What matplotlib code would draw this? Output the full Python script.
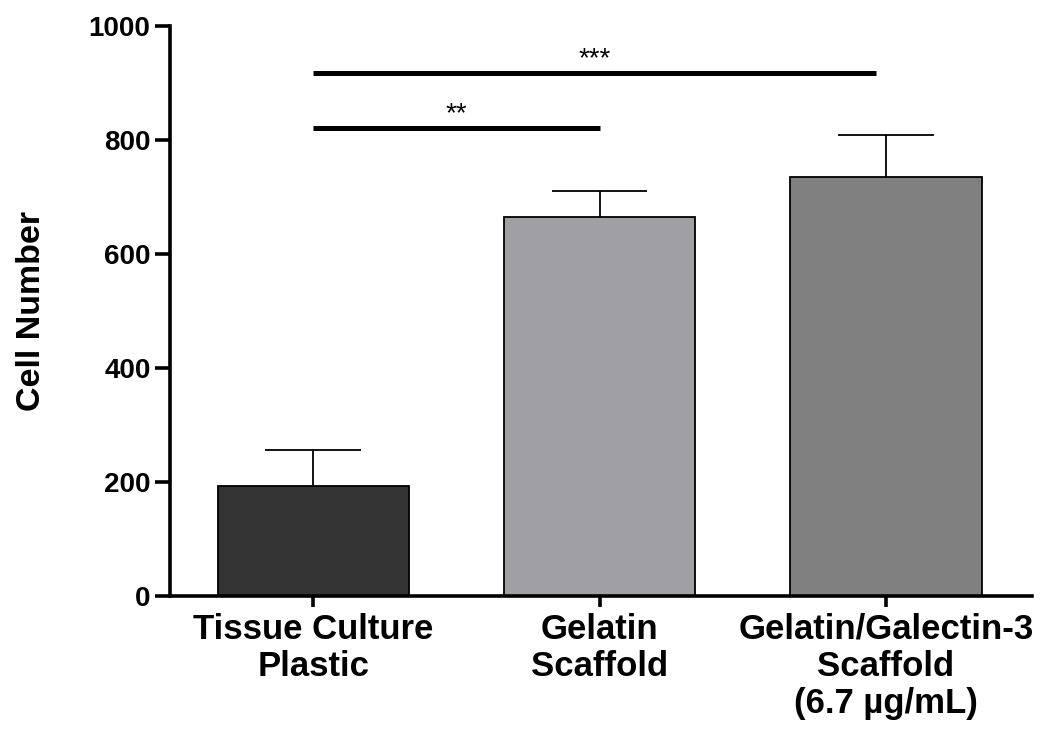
import matplotlib
matplotlib.use("Agg")
import matplotlib.pyplot as plt

plt.rcParams['font.family'] = ['Liberation Sans', 'DejaVu Sans']

# Dados
grupos = ["Tissue Culture\nPlastic", "Gelatin\nScaffold", "Gelatin/Galectin-3\nScaffold\n(6.7 µg/mL)"]
medias = [193, 665, 735]
erros = [63, 46, 74]
cores = ["#333333", "#a09fa3", "#808080"]
yticks = [0, 200, 400, 600, 800, 1000]

# Comparações de significância: (grupo inicial, grupo final, altura, rótulo)
comparacoes = [(0, 1, 821, "**"), (0, 2, 917, "***")]

fig = plt.figure(figsize=(10.43, 7.36), dpi=100)
ax = fig.add_axes([0.163, 0.190, 0.8265, 0.7747])

x = list(range(len(grupos)))
largura = 0.667
ax.bar(x, medias, width=largura, color=cores, edgecolor="black", linewidth=1.3, zorder=2)

# Barras de erro (só para cima), com a tampa = metade da largura da barra
topos = [m + e for m, e in zip(medias, erros)]
ax.vlines(x, medias, topos, color="black", linewidth=1.3, zorder=1)
ax.hlines(topos, [xi - largura / 4 for xi in x], [xi + largura / 4 for xi in x],
          color="black", linewidth=1.3, zorder=1)

for ini, fim, altura, rotulo in comparacoes:
    fim_x = fim if fim == 1 else fim - 0.035
    ax.plot([ini, fim_x], [altura, altura], color="black", linewidth=3.6,
            solid_capstyle="butt", zorder=3)
    ax.text((ini + fim_x) / 2, altura + 2, rotulo, ha="center", va="bottom",
            fontsize=20, color="black")

ax.set_xlim(-0.5, 2.51)
ax.set_ylim(0, 1000)
ax.set_yticks(yticks)
ax.set_yticklabels([str(v) for v in yticks], fontsize=20, fontweight="bold")
ax.set_xticks(x)
ax.set_xticklabels(grupos, fontsize=25, fontweight="bold", linespacing=1.15)
ax.set_ylabel("Cell Number", fontsize=24.5, fontweight="bold", labelpad=30)

ax.spines["top"].set_visible(False)
ax.spines["right"].set_visible(False)
ax.spines["left"].set_linewidth(2.6)
ax.spines["bottom"].set_linewidth(2.6)
ax.tick_params(axis="y", length=11, width=2.6, pad=3)
ax.tick_params(axis="x", length=8, width=2.6, pad=4)

fig.savefig("out.png", dpi=100)
